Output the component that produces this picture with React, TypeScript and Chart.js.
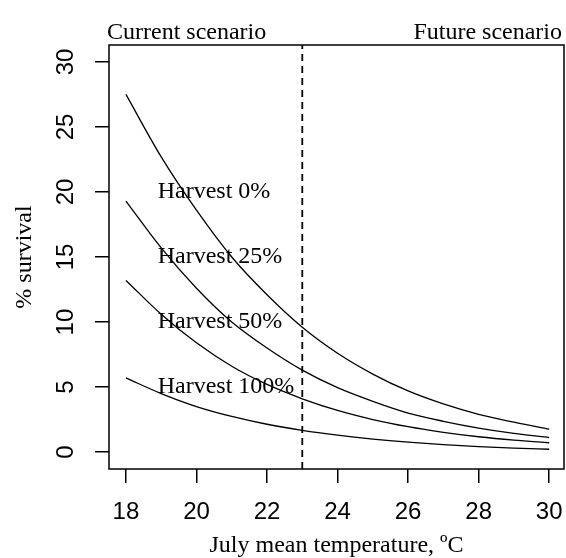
import React, { useEffect, useRef } from 'react';
import { Chart, registerables } from 'chart.js';

Chart.register(...registerables);

// ---- data ----
const TEMPS = [18, 19, 20, 21, 22, 23, 24, 25, 26, 27, 28, 29, 30];
const SURV_HARVEST_0 = [27.5, 22.7, 18.6, 15.0, 12.1, 9.6, 7.6, 6.0, 4.7, 3.7, 2.9, 2.3, 1.76];
const SURV_HARVEST_25 = [19.3, 15.7, 12.6, 10.0, 8.0, 6.3, 4.95, 3.9, 3.0, 2.37, 1.85, 1.44, 1.12];
const SURV_HARVEST_50 = [13.2, 10.6, 8.4, 6.6, 5.2, 4.1, 3.2, 2.5, 1.95, 1.52, 1.18, 0.92, 0.72];
const SURV_HARVEST_100 = [5.7, 4.5, 3.5, 2.74, 2.14, 1.67, 1.3, 1.0, 0.76, 0.57, 0.42, 0.31, 0.22];

const HARVEST_LABELS = ['Harvest 0%', 'Harvest 25%', 'Harvest 50%', 'Harvest 100%'];
const LABEL_Y = [20, 15, 10, 5];
const LABEL_X = 18.9;

const THRESHOLD_T = 23;
const SCENARIOS = ['Current scenario', 'Future scenario'];

const X_TICKS = [18, 20, 22, 24, 26, 28, 30];
const Y_TICKS = [0, 5, 10, 15, 20, 25, 30];
const X_MIN = 17.52;
const X_MAX = 30.42;
const Y_MIN = -1.3;
const Y_MAX = 31.3;

const X_TITLE = 'July mean temperature, ºC';
const Y_TITLE = '% survival';

const SERIF = '"Liberation Serif", "Times New Roman", Times, serif';
const SANS = '"Liberation Sans", Arial, Helvetica, sans-serif';

const toPoints = (ys: number[]) => TEMPS.map((t, i) => ({ x: t, y: ys[i] }));

const annotationPlugin = {
  id: 'rAnnotations',
  afterDatasetsDraw(chart: any) {
    const { ctx, chartArea: a, scales } = chart;
    const x = scales.x;
    const y = scales.y;
    ctx.save();
    ctx.setLineDash([]);
    ctx.strokeStyle = '#000';
    ctx.lineWidth = 1.5;
    ctx.strokeRect(a.left, a.top, a.right - a.left, a.bottom - a.top);

    ctx.fillStyle = '#000';
    ctx.font = `24px ${SERIF}`;
    ctx.textAlign = 'left';
    ctx.textBaseline = 'middle';
    HARVEST_LABELS.forEach((t, i) => {
      ctx.fillText(t, x.getPixelForValue(LABEL_X), y.getPixelForValue(LABEL_Y[i]));
    });

    ctx.textBaseline = 'alphabetic';
    ctx.textAlign = 'left';
    ctx.fillText(SCENARIOS[0], a.left - 2, 39);
    ctx.textAlign = 'right';
    ctx.fillText(SCENARIOS[1], chart.width - 4, 39);
    ctx.restore();
  },
};

const lineStyle = {
  borderColor: '#000',
  borderWidth: 1.3,
  pointRadius: 0,
  fill: false,
  cubicInterpolationMode: 'monotone' as const,
};

export default function App() {
  const ref = useRef<HTMLCanvasElement>(null);

  useEffect(() => {
    document.body.style.margin = '0';
    const chart = new Chart(ref.current as HTMLCanvasElement, {
      type: 'line',
      data: {
        datasets: [
          { label: HARVEST_LABELS[0], data: toPoints(SURV_HARVEST_0), ...lineStyle },
          { label: HARVEST_LABELS[1], data: toPoints(SURV_HARVEST_25), ...lineStyle },
          { label: HARVEST_LABELS[2], data: toPoints(SURV_HARVEST_50), ...lineStyle },
          { label: HARVEST_LABELS[3], data: toPoints(SURV_HARVEST_100), ...lineStyle },
          {
            label: 'threshold',
            data: [
              { x: THRESHOLD_T, y: Y_MIN },
              { x: THRESHOLD_T, y: Y_MAX },
            ],
            borderColor: '#000',
            borderWidth: 1.8,
            borderDash: [7, 5],
            pointRadius: 0,
            fill: false,
          },
        ],
      },
      options: {
        responsive: false,
        animation: false,
        devicePixelRatio: 1,
        layout: { padding: { top: 45, right: 2, bottom: 0, left: 0 } },
        plugins: {
          legend: { display: false },
          tooltip: { enabled: false },
        },
        events: [],
        scales: {
          x: {
            type: 'linear',
            min: X_MIN,
            max: X_MAX,
            afterBuildTicks: (s: any) => {
              s.ticks = X_TICKS.map((v) => ({ value: v }));
            },
            afterFit: (s: any) => {
              s.height = 89;
              s.paddingLeft = 0;
              s.paddingRight = 0;
            },
            border: { display: false },
            grid: {
              drawOnChartArea: false,
              drawTicks: true,
              tickLength: 14,
              color: '#000',
              lineWidth: 1.5,
            },
            ticks: {
              autoSkip: false,
              minRotation: 0,
              maxRotation: 0,
              padding: 15,
              color: '#000',
              font: { family: SANS, size: 24 },
              callback: (v: any) => String(v),
            },
            title: {
              display: true,
              text: X_TITLE,
              color: '#000',
              font: { family: SERIF, size: 24, lineHeight: 1 },
              padding: { top: 0, bottom: 0 },
            },
          },
          y: {
            type: 'linear',
            min: Y_MIN,
            max: Y_MAX,
            afterBuildTicks: (s: any) => {
              s.ticks = Y_TICKS.map((v) => ({ value: v }));
            },
            afterFit: (s: any) => {
              s.width = 109;
              s.paddingTop = 0;
              s.paddingBottom = 0;
            },
            border: { display: false },
            grid: {
              drawOnChartArea: false,
              drawTicks: true,
              tickLength: 14,
              color: '#000',
              lineWidth: 1.5,
            },
            ticks: {
              autoSkip: false,
              minRotation: 90,
              maxRotation: 90,
              crossAlign: 'center',
              padding: 15,
              color: '#000',
              font: { family: SANS, size: 24 },
              callback: (v: any) => String(v),
            },
            title: {
              display: true,
              text: Y_TITLE,
              color: '#000',
              font: { family: SERIF, size: 24, lineHeight: 1 },
              padding: { top: 12.5, bottom: 0 },
            },
          },
        },
      },
      plugins: [annotationPlugin],
    } as any);
    return () => chart.destroy();
  }, []);

  return (
    <div style={{ position: 'absolute', left: 0, top: 0, width: 566, height: 558, background: '#fff' }}>
      <canvas ref={ref} width={566} height={558} style={{ display: 'block' }} />
    </div>
  );
}
